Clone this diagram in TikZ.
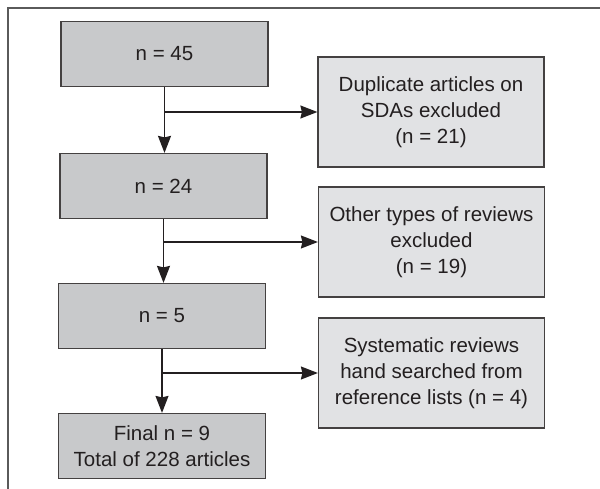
\documentclass[tikz,border=0pt]{standalone}
\usepackage{fontspec}
\setmainfont{Liberation Sans}
\usetikzlibrary{arrows.meta}
\definecolor{darkbox}{HTML}{C8C9CB}
\definecolor{lightbox}{HTML}{E1E2E4}
\definecolor{ink}{HTML}{231F20}
\definecolor{framegray}{HTML}{5A5A5A}
\begin{document}
\begin{tikzpicture}[x=1pt,y=-1pt,
  stagebox/.style={draw=ink!85, line width=1.2pt, fill=darkbox, text=ink,
    minimum width=207pt, minimum height=65pt, align=center, inner sep=0pt,
    font=\fontsize{20.5}{26}\selectfont},
  excludebox/.style={draw=ink!85, line width=1.2pt, fill=lightbox, text=ink,
    minimum width=226pt, minimum height=110pt, align=center, inner sep=0pt,
    font=\fontsize{20.5}{26}\selectfont},
  flow/.style={draw=ink, line width=1.5pt, -{Stealth[length=17pt,width=13pt,inset=1.5pt]}},
  branch/.style={draw=ink, line width=1.5pt}]
\useasboundingbox (0,0) rectangle (600,489);
\draw[framegray, line width=1.5pt] (600,8) -- (8,8) -- (8,489);

\node[stagebox] (b1) at (164.5,54) {n = 45};
\node[stagebox] (b2) at (163.5,186) {n = 24};
\node[stagebox] (b3) at (162,316) {n = 5};
\node[stagebox] (b4) at (162,446) {Final n = 9\\Total of 228 articles};

\node[excludebox] (r1) at (431,112) {Duplicate articles on\\SDAs excluded\\(n = 21)};
\node[excludebox] (r2) at (431.5,242) {Other types of reviews\\excluded\\(n = 19)};
\node[excludebox] (r3) at (431.5,373) {Systematic reviews\\hand searched from\\reference lists (n = 4)};

\draw[flow] (b1.south) -- (b1.south |- b2.north);
\draw[flow] (b2.south) -- (b2.south |- b3.north);
\draw[flow] (b3.south) -- (b3.south |- b4.north);

\draw[flow] (b1.south |- r1.west) -- (r1.west);
\draw[flow] (b2.south |- r2.west) -- (r2.west);
\draw[flow] (b3.south |- r3.west) -- (r3.west);
\end{tikzpicture}
\end{document}
